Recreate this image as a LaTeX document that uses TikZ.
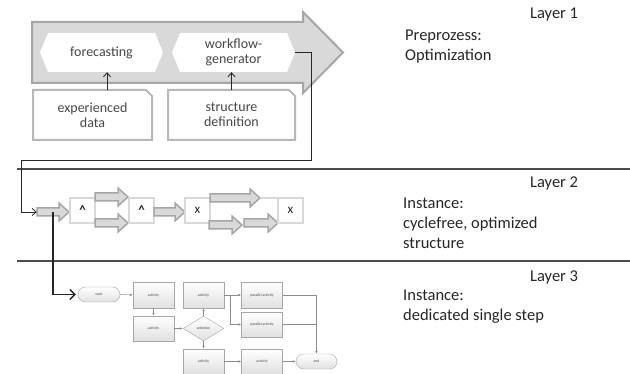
\documentclass[tikz,border=0pt]{standalone}
\usepackage{fontspec}
\setmainfont{Carlito}
\usetikzlibrary{arrows.meta,shapes.geometric}
\definecolor{bigfill}{HTML}{D9D9D9}
\definecolor{bigdraw}{HTML}{A6A6A6}
\definecolor{txt}{HTML}{262626}
\newcommand\garrow[4]{%
  \draw[garrowstyle] (#2,#4-4) -- (#3-10,#4-4) -- (#3-10,#4-9) -- (#3,#4) -- (#3-10,#4+9) -- (#3-10,#4+4) -- (#2,#4+4) -- cycle;
  \node[inner sep=0pt, minimum width=#3-#2, minimum height=18] (#1) at ({(#2+#3)/2},#4) {};}
\newcommand\caretsym{\raisebox{-3pt}{\bfseries\textasciicircum}}
\begin{document}
\begin{tikzpicture}[x=1pt,y=-1pt,
  garrowstyle/.style={fill=bigfill, draw=bigdraw, line width=1.5pt, line join=miter},
  lbox/.style={draw=bigfill, line width=1.5pt, fill=white, minimum width=25, minimum height=25, inner sep=0pt, font=\fontsize{13}{14}\selectfont, text=txt},
  ltext/.style={font=\fontsize{14}{15}\selectfont, text=txt!85, align=center, inner sep=0pt},
  rtext/.style={font=\fontsize{16.5}{20}\selectfont, text=txt, align=left, anchor=west, inner sep=0pt},
  sep/.style={draw=black!70, line width=1.2pt},
  fbox/.style={draw=black!35, top color=white, bottom color=black!12, minimum width=41, minimum height=26, inner sep=0pt, font=\fontsize{3.8}{4}\selectfont, text=black!70},
  fterm/.style={fbox, rounded corners=7.5pt, minimum height=15},
  fdiam/.style={draw=black!35, top color=white, bottom color=black!12, diamond, aspect=1.64, minimum width=41, minimum height=25, inner sep=0pt, font=\fontsize{3.8}{4}\selectfont, text=black!70},
  fedge/.style={draw=black!45, line width=0.5pt, -{Latex[length=3pt,width=2.5pt]}},
  conn/.style={draw=black!85, line width=0.8pt},
]
\useasboundingbox (0,0) rectangle (630,374);

% ---------------- Layer 1 ----------------
\draw[fill=bigfill, draw=bigdraw, line width=2pt, line join=miter]
  (32,22) -- (303,22) -- (303,12) -- (343,52.5) -- (303,93) -- (303,83) -- (32,83) -- cycle;
\fill[white] (40,52.5) -- (48,33) -- (155,33) -- (163,52.5) -- (155,72) -- (48,72) -- cycle;
\fill[white] (172,52.5) -- (180,33) -- (287,33) -- (295,52.5) -- (287,72) -- (180,72) -- cycle;
\node[ltext, minimum width=123, minimum height=39] (fc) at (101.5,52.5) {forecasting};
\node[ltext, minimum width=123, minimum height=39] (wg) at (233.5,52.5) {workflow-\\generator};

\draw[draw=bigdraw!80, line width=2pt, fill=white, line join=miter]
  (33,90) -- (146,90) -- (152,96) -- (152,140) -- (33,140) -- cycle;
\draw[draw=bigdraw!80, line width=2pt, fill=white, line join=miter]
  (168,90) -- (289,90) -- (295,96) -- (295,140) -- (168,140) -- cycle;
\node[ltext, minimum width=119, minimum height=50] (exp) at (92.5,115) {experienced\\data};
\node[ltext, minimum width=127, minimum height=50] (sd) at (231.5,115) {structure\\definition};

\draw[conn, -{Straight Barb[length=4pt,width=7pt]}] ([xshift=14.5pt]exp.north) -- ([xshift=5.5pt]fc.south);
\draw[conn, -{Straight Barb[length=4pt,width=7pt]}] (sd.north) -- (sd.north |- wg.south);

% separators
\draw[sep] (17,169) -- (630,169);
\draw[sep] (17,261) -- (630,261);

% ---------------- Layer 2 ----------------
\coordinate (c1) at (311,52.5);
\coordinate (c2) at (311,160);
\coordinate (c3) at (21,160);
\draw[conn] (53,212) -- (53,293);
\garrow{sa}{37}{69}{212}
\draw[conn, -{Straight Barb[length=4pt,width=7pt]}] (wg.east) -- (c1) -- (c2) -- (c3) |- (sa.west);

\node[lbox] (b1) at (82.5,210.5) {\caretsym};
\garrow{u1}{95}{128}{197}
\garrow{l1}{95}{128}{223}
\node[lbox] (b2) at (141.5,210.5) {\caretsym};
\garrow{m1}{154}{185}{212}
\node[lbox] (b3) at (197.5,210.5) {x};
\garrow{u2}{210}{260}{198}
\garrow{l2}{209}{242}{225}
\garrow{l3}{244}{278}{223}
\node[lbox] (b4) at (290.5,210.5) {x};
\draw[draw=bigfill, line width=1.2pt] (u2.east) -- (b4.west |- u2.east);

% ---------------- Layer 3 ----------------
\node[fterm, minimum width=42] (start) at (99,294.5) {start};
\node[fbox] (a1) at (153.5,295) {activity};
\node[fbox, minimum height=25] (a2) at (153.5,328.5) {activity};
\node[fdiam] (sel) at (203.5,328.5) {selection};
\node[fbox] (a3) at (203.5,295) {activity};
\node[fbox, minimum height=25] (a4) at (203.5,361.5) {activity};
\node[fbox] (p1) at (262,295) {parallel activity};
\node[fbox, minimum height=25] (p2) at (262,324.5) {parallel activity};
\node[fbox, minimum height=25] (a5) at (262,361.5) {activity};
\node[fterm, minimum width=41] (end) at (316.5,361.5) {end};

\draw[draw=black!85, line width=1.3pt, -{Straight Barb[length=5pt,width=10pt]}, shorten >=2pt] (sa.center) |- (start.west);

\draw[fedge] (start) -- (a1);
\draw[fedge] (a1) -- (a2);
\draw[fedge] (a2) -- (sel);
\draw[fedge] (sel) -- (a3);
\draw[fedge] (sel) -- (a4);
\draw[fedge] (a3) -- (p1);
\coordinate (split) at (230,295);
\draw[fedge] (split) |- (p2.west);
\draw[fedge] (p1.east) -| (end.north);
\draw[draw=black!45, line width=0.5pt] (p2.east) -- (p2.east -| end.north);
\draw[fedge] (a4) -- (a5);
\draw[fedge] (a5) -- (end);

% ---------------- right texts ----------------
\node[rtext] (l1) at (530,15) {Layer 1};
\node[rtext] (t1) at (405,47) {Preprozess:\\Optimization};
\node[rtext] (l2) at (530,183) {Layer 2};
\node[rtext] (t2) at (403,223.5) {Instance:\\cyclefree, optimized\\structure};
\node[rtext] (l3) at (530,277) {Layer 3};
\node[rtext] (t3) at (403,307) {Instance:\\dedicated single step};
\end{tikzpicture}
\end{document}
